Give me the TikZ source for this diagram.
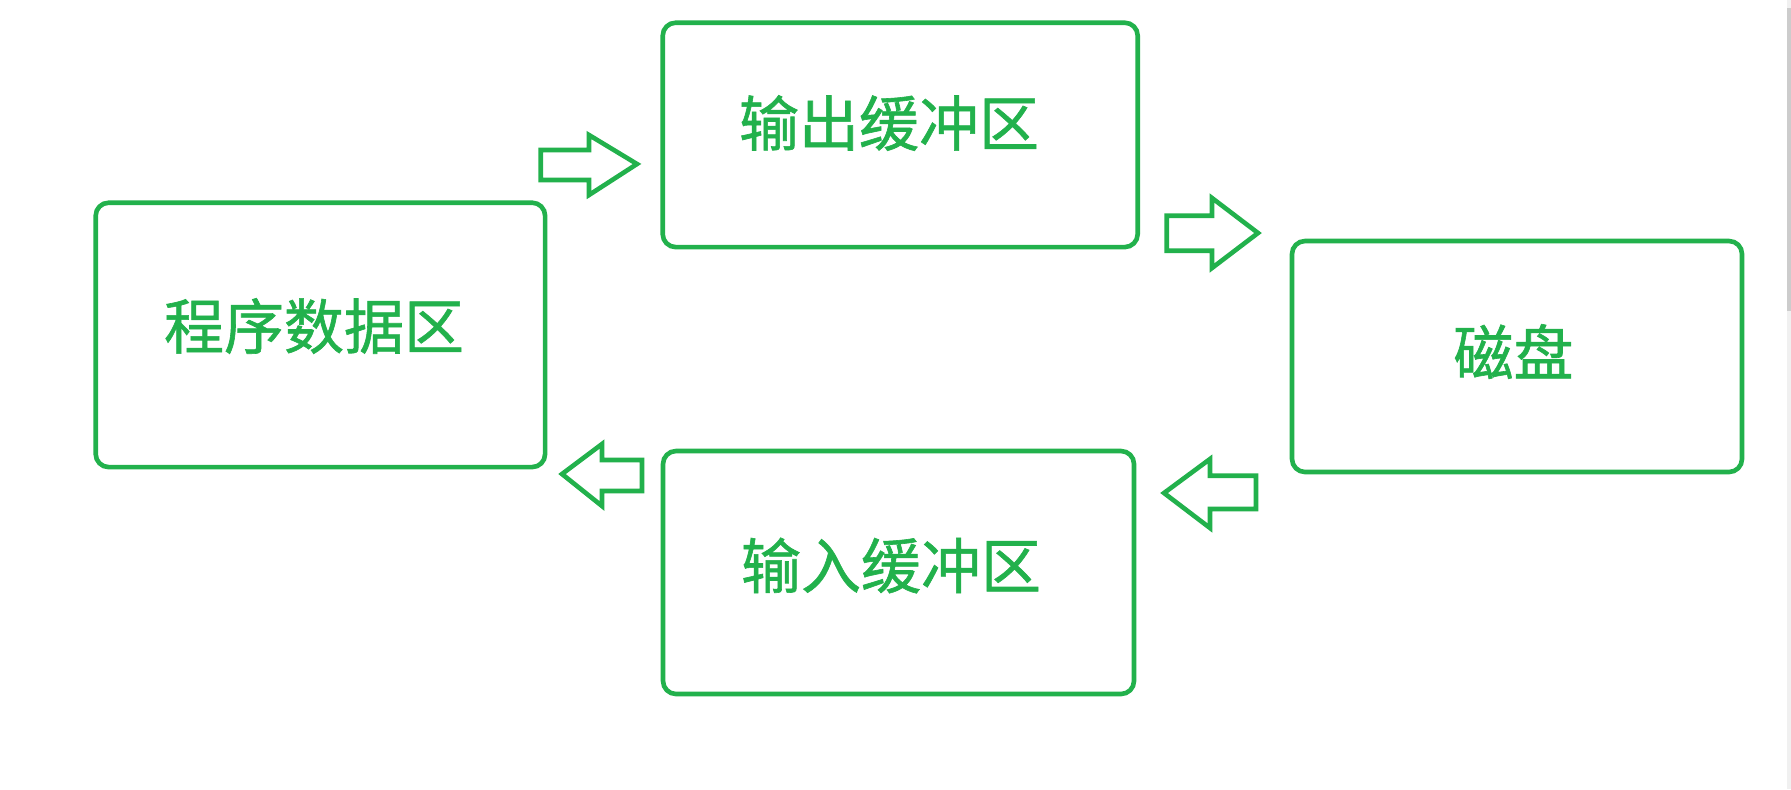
\documentclass[tikz,border=0pt]{standalone}
\usepackage{fontspec}
\newfontfamily\cjk[FakeBold=1.0]{Noto Sans CJK SC}
\definecolor{pgreen}{HTML}{22B14C}
\begin{document}
\begin{tikzpicture}[x=0.5pt,y=-0.5pt,
  box/.style={draw=pgreen,line width=2.3pt,rounded corners=6.5pt,inner sep=0pt,outer sep=0pt},
  lbl/.style={text=pgreen,font=\cjk\fontsize{30}{36}\selectfont,inner sep=0pt},
  blockarrow/.style={draw=pgreen,line width=2.3pt,line join=miter}]
\useasboundingbox[fill=white] (0,0) rectangle (1791,789);
% scrollbar strip at right edge
\fill[gray!12] (1787,0) rectangle (1791,789);
\fill[gray!40] (1787,8) rectangle (1791,311);
% boxes
\node[box,minimum width=224.7pt,minimum height=132.2pt] (prog) at (320.4,334.9) {};
\node[box,minimum width=237.5pt,minimum height=112.2pt] (out) at (900.2,134.9) {};
\node[box,minimum width=225pt,minimum height=115.5pt] (disk) at (1517,356.5) {};
\node[box,minimum width=235.5pt,minimum height=121.5pt] (in) at (898.5,572.5) {};
% labels
\node[lbl] (progl) at (314,326) {程序数据区};
\node[lbl] (outl) at (889,123) {输出缓冲区};
\node[lbl] (diskl) at (1513.5,351.5) {磁盘};
\node[lbl] (inl) at (891,565.5) {输入缓冲区};
% block arrows
\draw[blockarrow] (540.7,150) -- (589,150) -- (589,135) -- (637,164) -- (589,195) -- (589,180) -- (540.7,180) -- cycle;
\draw[blockarrow] (1166.7,215.7) -- (1212,215.7) -- (1212,198) -- (1258,233) -- (1212,268) -- (1212,250.7) -- (1166.7,250.7) -- cycle;
\draw[blockarrow] (1256,475.7) -- (1210,475.7) -- (1210,459) -- (1164,493) -- (1210,528) -- (1210,509) -- (1256,509) -- cycle;
\draw[blockarrow] (642,460) -- (602,460) -- (602,444) -- (562,474) -- (602,506) -- (602,491) -- (642,491) -- cycle;
\end{tikzpicture}
\end{document}
